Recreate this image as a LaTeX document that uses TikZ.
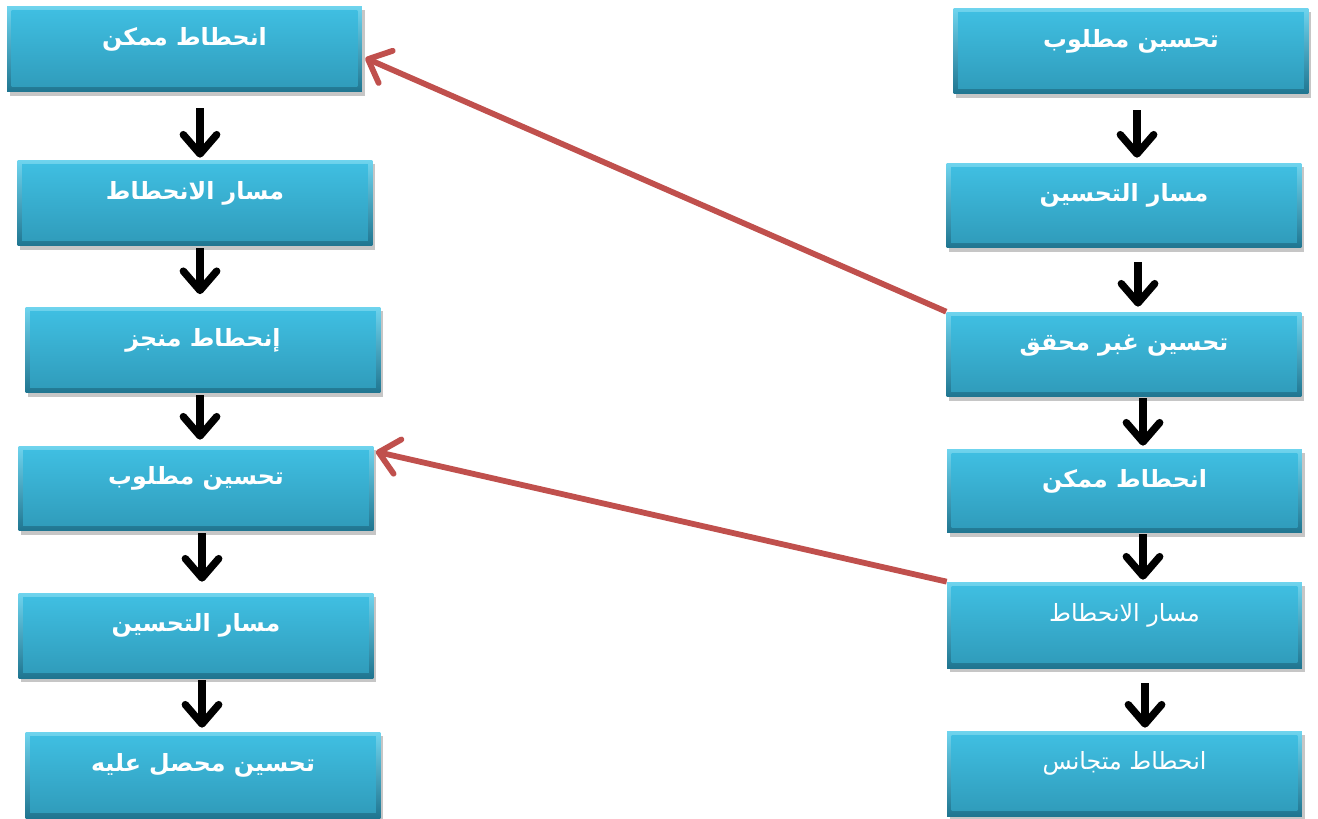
\documentclass[tikz,border=0pt]{standalone}
\usepackage{fontspec}
\newfontfamily\arabicfont[Script=Arabic]{DejaVu Sans}
\TeXXeTstate=1
\usetikzlibrary{arrows.meta,shadows}
\definecolor{boxtop}{HTML}{40C0E3}
\definecolor{boxbot}{HTML}{2F9AB9}
\definecolor{edgetop}{HTML}{6FD4EE}
\definecolor{edgebot}{HTML}{1F7590}
\definecolor{redarr}{HTML}{C0504D}
\tikzset{
  boxb/.style={rectangle, top color=edgetop, bottom color=edgebot, draw=none,
    minimum width=#1, minimum height=1.72cm, inner sep=0pt, text=white,
    text height=0.4cm, text depth=0.56cm,
    font=\arabicfont\bfseries\fontsize{13.5}{15}\selectfont,
    drop shadow={shadow xshift=1.5pt, shadow yshift=-2.5pt, opacity=0.45},
    path picture={\shade[top color=boxtop, bottom color=boxbot]
      ([shift={(0.09cm,-0.09cm)}]path picture bounding box.north west) rectangle
      ([shift={(-0.09cm,0.11cm)}]path picture bounding box.south east);}},
  boxb/.default=7.1cm,
  boxr/.style={boxb=#1, font=\arabicfont\fontsize{13.5}{15}\selectfont},
  boxr/.default=7.1cm,
  blk/.style={line width=4.2pt, black, -{Straight Barb[length=11pt,width=19pt,round]}},
  red/.style={line width=3.3pt, redarr, -{Straight Barb[length=11pt,width=20pt,round]}}
}
\begin{document}
\begin{tikzpicture}[x=0.02cm,y=-0.02cm]
\useasboundingbox (0,0) rectangle (1318,818);
% left column
\node[boxb] (L1) at (184.5,49) {\beginR انحطاط ممكن\endR};
\node[boxb] (L2) at (195,203) {\beginR مسار الانحطاط\endR};
\node[boxb] (L3) at (203,350) {\beginR إنحطاط منجز\endR};
\node[boxb,minimum height=1.7cm] (L4) at (196,488.5) {\beginR تحسين مطلوب\endR};
\node[boxb,minimum height=1.7cm] (L5) at (196,635.5) {\beginR مسار التحسين\endR};
\node[boxb] (L6) at (203,775) {\beginR تحسين محصل عليه\endR};
% right column
\node[boxb] (R1) at (1131,51) {\beginR تحسين مطلوب\endR};
\node[boxb,minimum height=1.7cm] (R2) at (1124,205.5) {\beginR مسار التحسين\endR};
\node[boxb,minimum height=1.7cm] (R3) at (1124,354.5) {\beginR تحسين غبر محقق\endR};
\node[boxb,minimum height=1.68cm] (R4) at (1124.5,491) {\beginR انحطاط ممكن\endR};
\node[boxr] (R5) at (1124.5,625) {\beginR مسار الانحطاط\endR};
\node[boxr,minimum height=1.7cm] (R6) at (1124.5,773.5) {\beginR انحطاط متجانس\endR};
% black arrows left
\draw[blk] ([xshift=0.31cm,yshift=-0.32cm]L1.south) -- ([xshift=0.31cm,yshift=0.04cm]L1.south |- L2.north);
\draw[blk] ([xshift=0.1cm,yshift=-0.04cm]L2.south) -- ([xshift=0.1cm,yshift=0.25cm]L2.south |- L3.north);
\draw[blk] ([xshift=-0.06cm,yshift=-0.04cm]L3.south) -- ([xshift=-0.06cm,yshift=0.12cm]L3.south |- L4.north);
\draw[blk] ([xshift=0.12cm,yshift=-0.04cm]L4.south) -- ([xshift=0.12cm,yshift=0.22cm]L4.south |- L5.north);
\draw[blk] ([xshift=0.12cm,yshift=-0.04cm]L5.south) -- ([xshift=0.12cm,yshift=0.08cm]L5.south |- L6.north);
% black arrows right
\draw[blk] ([xshift=0.12cm,yshift=-0.32cm]R1.south) -- ([xshift=0.12cm,yshift=0.1cm]R1.south |- R2.north);
\draw[blk] ([xshift=0.28cm,yshift=-0.28cm]R2.south) -- ([xshift=0.28cm,yshift=0.1cm]R2.south |- R3.north);
\draw[blk] ([xshift=0.38cm,yshift=-0.02cm]R3.south) -- ([xshift=0.38cm,yshift=0.06cm]R3.south |- R4.north);
\draw[blk] ([xshift=0.37cm,yshift=-0.02cm]R4.south) -- ([xshift=0.37cm,yshift=0.04cm]R4.south |- R5.north);
\draw[blk] ([xshift=0.41cm,yshift=-0.3cm]R5.south) -- ([xshift=0.41cm,yshift=0.06cm]R5.south |- R6.north);
% red arrows
\draw[red] (R3.north west) -- ([xshift=0.06cm,yshift=-0.18cm]L1.east);
\draw[red] (R5.north west) -- ([xshift=0.04cm,yshift=-0.12cm]L4.north east);
\end{tikzpicture}
\end{document}
